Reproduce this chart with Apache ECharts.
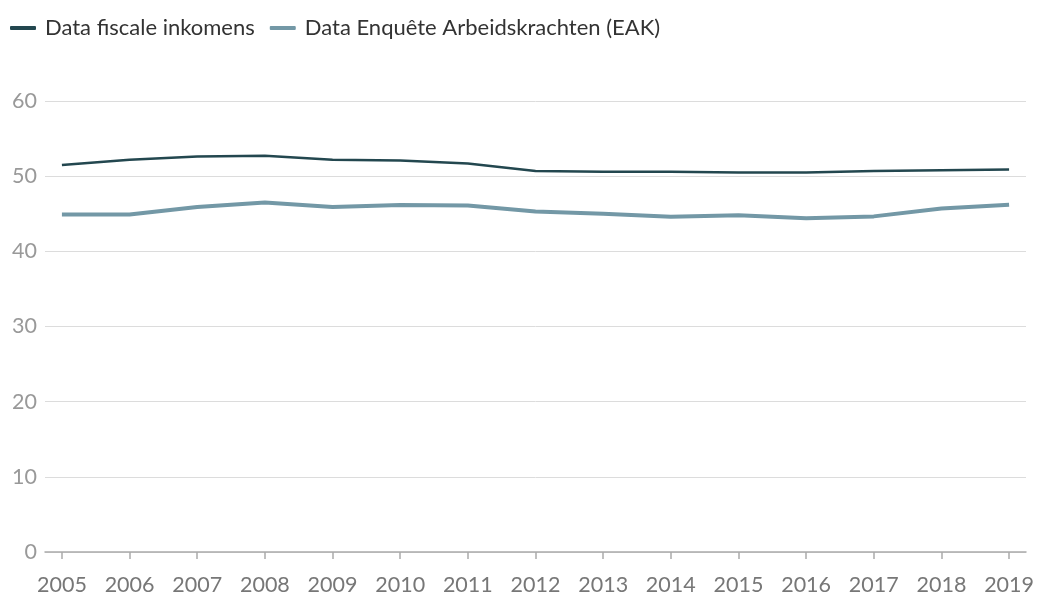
<!DOCTYPE html>
<html lang="nl">
<head>
    <meta charset="UTF-8">
    <title>Fiscale inkomens vs EAK</title>
    <script src="https://cdn.jsdelivr.net/npm/echarts@6/dist/echarts.min.js"></script>
    <style>
        html, body { margin: 0; padding: 0; background: #fff; }
        #chart { width: 1038px; height: 596px; }
    </style>
</head>
<body>
<div id="chart"></div>
<script type="application/javascript">
    var years = [2005, 2006, 2007, 2008, 2009, 2010, 2011, 2012, 2013, 2014, 2015, 2016, 2017, 2018, 2019];
    var fiscaal = [51.5, 52.2, 52.6, 52.7, 52.2, 52.1, 51.7, 50.7, 50.6, 50.6, 50.5, 50.5, 50.7, 50.8, 50.9];
    var eak = [44.9, 44.9, 45.9, 46.5, 45.9, 46.15, 46.1, 45.3, 45.0, 44.6, 44.8, 44.4, 44.65, 45.7, 46.2];
    var yTicks = [0, 10, 20, 30, 40, 50, 60];

    function pairs(vals) {
        return years.map(function (y, i) { return [y, vals[i]]; });
    }

    var chart = echarts.init(document.getElementById('chart'));
    var option = {
        animation: false,
        textStyle: { fontFamily: 'Lato, "Noto Sans", sans-serif' },
        legend: {
            left: 5,
            top: 12,
            itemWidth: 26,
            itemHeight: 4,
            itemGap: 15,
            textStyle: { fontSize: 22, color: '#333', fontFamily: 'Lato', padding: [0, 0, 0, 4] },
            data: [
                { name: 'Data fiscale inkomens', icon: 'roundRect', itemStyle: { color: '#23474f' } },
                { name: 'Data Enquête Arbeidskrachten (EAK)', icon: 'roundRect', itemStyle: { color: '#7398a6' } }
            ]
        },
        grid: { left: 45, right: 12, top: 101, bottom: 43 },
        xAxis: {
            type: 'value',
            min: 2004.75,
            max: 2019.25,
            splitLine: { show: false },
            axisLine: { show: true, lineStyle: { color: '#aaa', width: 1.5 } },
            axisTick: { show: true, length: 7, customValues: years, lineStyle: { color: '#aaa', width: 1.5 } },
            axisLabel: {
                customValues: years,
                color: '#777',
                fontSize: 21.5,
                fontFamily: 'Lato',
                margin: 22,
                formatter: function (v) { return String(v); }
            }
        },
        yAxis: {
            type: 'value',
            min: yTicks[0],
            max: yTicks[yTicks.length - 1],
            interval: 10,
            axisLine: { show: false },
            axisTick: { show: false },
            splitLine: { lineStyle: { color: '#dcdcdc', width: 1 } },
            axisLabel: { color: '#999', fontSize: 21.5, fontFamily: 'Lato', margin: 8 }
        },
        series: [
            {
                name: 'Data fiscale inkomens',
                type: 'line',
                data: pairs(fiscaal),
                showSymbol: false,
                color: '#23474f',
                lineStyle: { width: 2.5, color: '#23474f' }
            },
            {
                name: 'Data Enquête Arbeidskrachten (EAK)',
                type: 'line',
                data: pairs(eak),
                showSymbol: false,
                color: '#7398a6',
                lineStyle: { width: 4, color: '#7398a6' }
            }
        ]
    };
    chart.setOption(option);
</script>
</body>
</html>
